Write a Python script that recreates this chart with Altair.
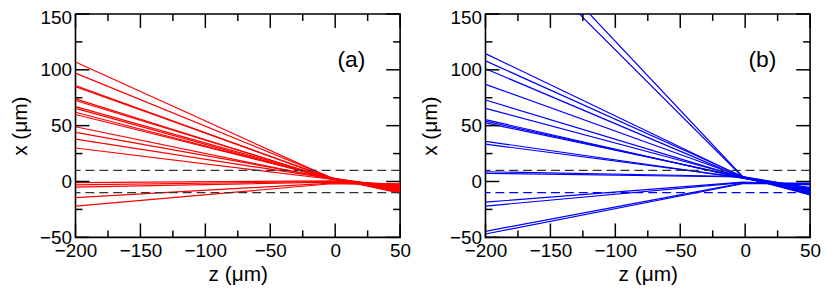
import altair as alt
import pandas as pd

# ---- data ----
Z_A = [-200, -3, 50]          # ray sample positions, panel (a)
Z_B = [-200, -2, 50]          # ray sample positions, panel (b)

# panel (a): x at z=-200, at the crossing, at z=50
LEFT_A = [107, 97, 86, 85, 74, 72.5, 67, 65.5, 62, 60, 49, 44, 38, 30, -1, -3, -5, -14.5, -22]
MID_A = [3, 3.5, 2.5, 3, 2, 2.5, 3, 2, 2.5, 3, 2, 3, 2.5, 2, 0.5, 0, -0.5, -1.5, -2]
RIGHT_A = [-10.5, -10, -9, -9.5, -8, -8.5, -7.5, -7, -7.5, -6.5, -6, -5.5, -5, -4.5, -3, -2.5, -3.5, -2, -3]

# panel (b)
LEFT_B = [234, 249, 114.5, 108, 101, 87, 73, 65.5, 55.4, 54, 52.5, 36, 33.5, 8.7, 7.3, -18.5, -22, -44.6, -47]
MID_B = [4, 4.5, 4, 4.5, 3.5, 4, 3.5, 4, 3, 3.5, 4, 3, 3.5, 4.5, 4, -0.5, -1, -1.5, -2]
RIGHT_B = [-12, -11.5, -11, -10.5, -10, -9.5, -9, -8.5, -8, -8, -7.5, -7, -6.5, -6, -5.5, -2.5, -3, -1.5, -2]

DASH_UPPER = [10]
DASH_LOWER = [-10]

X_MAJOR = [-200, -150, -100, -50, 0, 50]
X_MINOR = [-175, -125, -75, -25, 25]
Y_MAJOR = [-50, 0, 50, 100, 150]
Y_MINOR = [-25, 25, 75, 125]

FONT = "Liberation Sans"
W_A, W_B, H = 327, 327, 225
MAJ, MIN = 14, 7


def panel(zs, left, mid, right, color, lower_color, tag, width, tag_x):
    rows = []
    for i, (l, m, r) in enumerate(zip(left, mid, right)):
        for z, v in zip(zs, (l, m, r)):
            rows.append({"ray": i, "z": z, "x": v})
    df = pd.DataFrame(rows)
    xs = alt.Scale(domain=[-200, 50], nice=False, zero=False)
    ys = alt.Scale(domain=[-50, 150], nice=False, zero=False)
    xaxis = alt.Axis(title="z (μm)", values=X_MAJOR, ticks=False, domain=False, grid=False,
                     labelFlush=False, labelOverlap=False, labelPadding=4, titlePadding=3)
    yaxis = alt.Axis(title="x (μm)", values=Y_MAJOR, ticks=False, domain=False, grid=False,
                     labelFlush=False, labelOverlap=False, labelPadding=4, titlePadding=9,
                     labelOffset={"condition": {"test": "datum.value == 150", "value": 3.5}, "value": 0})

    def X():
        return alt.X("z:Q", scale=xs, axis=xaxis)

    def Y():
        return alt.Y("x:Q", scale=ys, axis=yaxis)

    lines = alt.Chart(df).mark_line(color=color, strokeWidth=1.2, clip=True).encode(
        x=X(), y=Y(), detail="ray:N")
    up = alt.Chart(pd.DataFrame({"x": DASH_UPPER})).mark_rule(
        color="#333333", strokeWidth=1.3, strokeDash=[9, 5]).encode(y=Y())
    lo = alt.Chart(pd.DataFrame({"x": DASH_LOWER})).mark_rule(
        color=lower_color, strokeWidth=1.3, strokeDash=[9, 5]).encode(y=Y())

    layers = [lines, up, lo]
    for vals, ln in ((Y_MAJOR, MAJ), (Y_MINOR, MIN)):
        d = pd.DataFrame({"x": vals})
        layers.append(alt.Chart(d).mark_rule(color="black", strokeWidth=1.5).encode(
            y=Y(), x=alt.value(0), x2=alt.value(ln)))
        layers.append(alt.Chart(d).mark_rule(color="black", strokeWidth=1.5).encode(
            y=Y(), x=alt.value(width - ln), x2=alt.value(width)))
    for vals, ln in ((X_MAJOR, MAJ), (X_MINOR, MIN)):
        d = pd.DataFrame({"z": vals})
        layers.append(alt.Chart(d).mark_rule(color="black", strokeWidth=1.5).encode(
            x=X(), y=alt.value(H - ln), y2=alt.value(H)))
        layers.append(alt.Chart(d).mark_rule(color="black", strokeWidth=1.5).encode(
            x=X(), y=alt.value(0), y2=alt.value(ln)))

    label = alt.Chart(pd.DataFrame({"t": [tag]})).mark_text(
        font=FONT, fontSize=23, color="black").encode(
        text="t:N", x=alt.value(tag_x), y=alt.value(46))
    layers.append(label)
    return alt.layer(*layers).properties(width=width, height=H)


pa = panel(Z_A, LEFT_A, MID_A, RIGHT_A, "#ff0000", "#333333", "(a)", W_A, 278)
pb = panel(Z_B, LEFT_B, MID_B, RIGHT_B, "#0000ff", "#0000ff", "(b)", W_B, 279)

chart = alt.hconcat(pa, pb, spacing=6).properties(
    padding={"left": 0, "top": -2, "right": 0, "bottom": 0}
).configure_view(
    stroke="black", strokeWidth=1.6
).configure_axis(
    labelFont=FONT, titleFont=FONT, labelFontSize=19, titleFontSize=21,
    labelColor="black", titleColor="black", titleFontWeight="normal",
)

chart.save("out.html", embed_options={"renderer": "svg", "actions": False})
